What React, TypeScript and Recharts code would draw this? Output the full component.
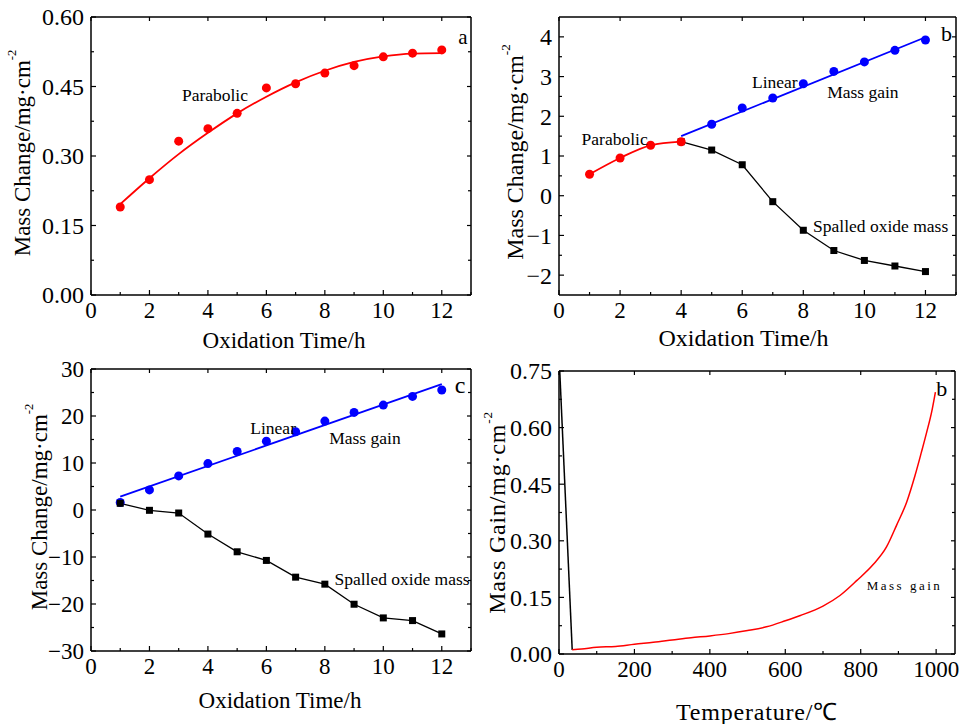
import React from 'react'
import { ComposedChart, Line, XAxis, YAxis, ReferenceDot } from 'recharts'

const FONT = '"Liberation Serif", "Times New Roman", Times, serif'
const RED = '#ff0000'
const BLUE = '#0000ff'
const BLACK = '#000000'

// a: parabolic mass change, 1-12 h
const hoursA = [1, 2, 3, 4, 5, 6, 7, 8, 9, 10, 11, 12]
const massA = [0.19, 0.249, 0.332, 0.359, 0.392, 0.447, 0.456, 0.479, 0.495, 0.514, 0.522, 0.529]
const fitA = [0.196, 0.252, 0.304, 0.35, 0.392, 0.428, 0.459, 0.484, 0.503, 0.515, 0.521, 0.522]

// b: parabolic -> linear, with spalled oxide
const hoursParabB = [1, 2, 3, 4]
const massParabB = [0.54, 0.95, 1.27, 1.36]
const hoursGainB = [5, 6, 7, 8, 9, 10, 11, 12]
const massGainB = [1.8, 2.21, 2.46, 2.82, 3.13, 3.37, 3.66, 3.92]
const hoursLinB = [4, 12]
const linearB = [1.5, 3.99]
const hoursSpallB = [4, 5, 6, 7, 8, 9, 10, 11, 12]
const spallB = [1.36, 1.15, 0.78, -0.15, -0.87, -1.38, -1.63, -1.77, -1.91]

// c: linear gain and spalled oxide
const hoursC = [1, 2, 3, 4, 5, 6, 7, 8, 9, 10, 11, 12]
const gainC = [1.6, 4.27, 7.25, 9.88, 12.44, 14.64, 16.64, 18.91, 20.76, 22.32, 24.17, 25.52]
const hoursLinC = [1, 12]
const linearC = [2.84, 26.8]
const spallC = [1.42, -0.07, -0.64, -5.12, -8.89, -10.73, -14.29, -15.78, -20.05, -22.96, -23.53, -26.37]

// d: mass gain vs temperature
const tempDrop = [2, 35]
const massDrop = [0.75, 0.011]
const tempD = [35, 60, 100, 150, 200, 250, 300, 350, 400, 450, 500, 550, 600, 640, 700, 745, 790, 833, 868, 895, 922, 944, 961, 975, 988, 998]
const gainD = [0.011, 0.013, 0.018, 0.02, 0.026, 0.031, 0.037, 0.043, 0.048, 0.054, 0.062, 0.072, 0.088, 0.102, 0.127, 0.155, 0.195, 0.237, 0.283, 0.341, 0.403, 0.473, 0.535, 0.588, 0.641, 0.694]

const timeMajor = [0, 2, 4, 6, 8, 10, 12]
const timeMinor = [1, 3, 5, 7, 9, 11, 13]
const tempMajor = [0, 200, 400, 600, 800, 1000]
const tempMinor = [100, 300, 500, 700, 900]
const yMajorA = [0, 0.15, 0.3, 0.45, 0.6]
const yMinorA = [0.075, 0.225, 0.375, 0.525]
const yMajorB = [-2, -1, 0, 1, 2, 3, 4]
const yMinorB = [-1.5, -0.5, 0.5, 1.5, 2.5, 3.5]
const yMajorC = [-30, -20, -10, 0, 10, 20, 30]
const yMinorC = [-25, -15, -5, 5, 15, 25]
const yMajorD = [0, 0.15, 0.3, 0.45, 0.6, 0.75]
const yMinorD = [0.075, 0.225, 0.375, 0.525, 0.675]

const pts = (xs: number[], ys: number[]) => xs.map((x, i) => ({ x, y: ys[i] }))
const fmt2 = (v: number) => v.toFixed(2)
const fmtInt = (v: number) => (v < 0 ? '\u2212' + Math.abs(v) : String(v))
const isIn = (arr: number[], v: number) => arr.some(m => Math.abs(m - v) < 1e-9)

interface AxisSpec { domain: [number, number]; major: number[]; minor: number[]; fmt: (v: number) => string }

const axisLine = { stroke: BLACK, strokeWidth: 1.5 }

function Panel(props: any) {
  const { left, top, width, height, margin, yWidth, x, y, xTitle, yTitle, xTitleDx, xTitleDy, yTitleX, yTitleDy, titleSize, titleSpacing, xTickSize, yTickSize, children } = props
  const xs: AxisSpec = x
  const ys: AxisSpec = y
  const xTicks = [...xs.major, ...xs.minor].sort((a, b) => a - b)
  const yTicks = [...ys.major, ...ys.minor].sort((a, b) => a - b)

  const bottomTick = (p: any) => {
    const v = p.payload.value
    const major = isIn(xs.major, v)
    return (
      <g>
        <line x1={p.x} y1={p.y} x2={p.x} y2={p.y - (major ? 5 : 3)} stroke={BLACK} strokeWidth={1.2} />
        {major && <text x={p.x} y={p.y + 7} dy="0.71em" textAnchor="middle" fontFamily={FONT} fontSize={xTickSize} fill={BLACK}>{xs.fmt(v)}</text>}
      </g>
    )
  }
  const topTick = (p: any) => {
    const major = isIn(xs.major, p.payload.value)
    return <line x1={p.x} y1={p.y} x2={p.x} y2={p.y + (major ? 4 : 3)} stroke={BLACK} strokeWidth={1.2} />
  }
  const leftTick = (p: any) => {
    const v = p.payload.value
    const major = isIn(ys.major, v)
    return (
      <g>
        <line x1={p.x} y1={p.y} x2={p.x + (major ? 5 : 3)} y2={p.y} stroke={BLACK} strokeWidth={1.2} />
        {major && <text x={p.x - 7} y={p.y} dy="0.35em" textAnchor="end" fontFamily={FONT} fontSize={yTickSize} fill={BLACK}>{ys.fmt(v)}</text>}
      </g>
    )
  }
  const rightTick = (p: any) => {
    const major = isIn(ys.major, p.payload.value)
    return <line x1={p.x} y1={p.y} x2={p.x - (major ? 4 : 3)} y2={p.y} stroke={BLACK} strokeWidth={1.2} />
  }

  const xTitleLabel = (p: any) => {
    const vb = p.viewBox
    return (
      <text x={vb.x + vb.width / 2 + xTitleDx} y={vb.y + xTitleDy} textAnchor="middle" dominantBaseline="central"
        fontFamily={FONT} fontSize={titleSize} letterSpacing={titleSpacing} fill={BLACK}>{xTitle}</text>
    )
  }
  const yTitleLabel = (p: any) => {
    const vb = p.viewBox
    const cy = vb.y + vb.height / 2 + yTitleDy
    return (
      <text transform={`translate(${yTitleX},${cy}) rotate(-90)`} textAnchor="middle" dominantBaseline="central"
        fontFamily={FONT} fontSize={titleSize} letterSpacing={titleSpacing} fill={BLACK}>
        {yTitle}<tspan dy={-titleSize * 0.42} fontSize={titleSize * 0.55}>-2</tspan>
      </text>
    )
  }

  return (
    <div style={{ position: 'absolute', left, top }}>
      <ComposedChart width={width} height={height} margin={margin}>
        <XAxis xAxisId="x" type="number" dataKey="x" domain={xs.domain} ticks={xTicks} interval={0} allowDataOverflow
          height={30} tickSize={0} tickMargin={0} tickLine={false} axisLine={axisLine} stroke={BLACK}
          tick={bottomTick} label={xTitleLabel} />
        <XAxis xAxisId="xt" type="number" dataKey="x" orientation="top" mirror domain={xs.domain} ticks={xs.major} interval={0}
          allowDataOverflow height={1} tickSize={0} tickMargin={0} tickLine={false} axisLine={axisLine} stroke={BLACK} tick={topTick} />
        <YAxis yAxisId="y" type="number" dataKey="y" domain={ys.domain} ticks={yTicks} interval={0} allowDataOverflow
          width={yWidth} tickSize={0} tickMargin={0} tickLine={false} axisLine={axisLine} stroke={BLACK}
          tick={leftTick} label={yTitleLabel} />
        <YAxis yAxisId="yr" type="number" dataKey="y" orientation="right" mirror domain={ys.domain} ticks={yTicks} interval={0}
          allowDataOverflow width={1} tickSize={0} tickMargin={0} tickLine={false} axisLine={axisLine} stroke={BLACK} tick={rightTick} />
        {children}
      </ComposedChart>
    </div>
  )
}

const note = (key: string, x: number, y: number, text: string, size = 17.5, anchor = 'start', spacing = 0) => (
  <ReferenceDot key={key} xAxisId="x" yAxisId="y" x={x} y={y} r={0} fill="none" stroke="none"
    label={(p: any) => (
      <text x={p.viewBox.x} y={p.viewBox.y} dy="0.35em" textAnchor={anchor} fontFamily={FONT} fontSize={size}
        letterSpacing={spacing} fill={BLACK}>{text}</text>
    )} />
)

const circleDot = (color: string) => ({ r: 4.5, fill: color, stroke: color, strokeWidth: 0 })
const squareDot = (p: any) => (
  <rect key={`sq-${p.index}`} x={p.cx - 3.5} y={p.cy - 3.5} width={7} height={7} fill={BLACK} />
)

const timeX = (max: number): AxisSpec => ({ domain: [0, max], major: timeMajor, minor: timeMinor, fmt: v => String(v) })

export default function App() {
  return (
    <div style={{ position: 'absolute', left: 0, top: 0, width: 963, height: 724, background: '#fff', fontFamily: FONT }}>
      {/* a */}
      <Panel left={0} top={0} width={480} height={360} margin={{ top: 17, right: 9, bottom: 35, left: 31 }} yWidth={60}
        x={timeX(13)} y={{ domain: [0, 0.6], major: yMajorA, minor: yMinorA, fmt: fmt2 }}
        xTitle="Oxidation Time/h" yTitle="Mass Change/mg·cm" xTitleDx={3} xTitleDy={45} yTitleX={22} yTitleDy={-3}
        titleSize={23} titleSpacing={0} xTickSize={23} yTickSize={24}>
        <Line xAxisId="x" yAxisId="y" data={pts(hoursA, fitA)} dataKey="y" type="monotone" stroke={RED} strokeWidth={1.8}
          dot={false} activeDot={false} isAnimationActive={false} />
        <Line xAxisId="x" yAxisId="y" data={pts(hoursA, massA)} dataKey="y" stroke="none" strokeWidth={0}
          dot={circleDot(RED)} activeDot={false} isAnimationActive={false} />
        {note('a1', 3.11, 0.433, 'Parabolic')}
        {note('a2', 12.72, 0.558, 'a', 21, 'middle')}
      </Panel>

      {/* b */}
      <Panel left={480} top={0} width={483} height={360} margin={{ top: 17, right: 7, bottom: 35, left: 29 }} yWidth={50}
        x={timeX(13)} y={{ domain: [-2.5, 4.5], major: yMajorB, minor: yMinorB, fmt: fmtInt }}
        xTitle="Oxidation Time/h" yTitle="Mass Change/mg·cm" xTitleDx={-14} xTitleDy={43} yTitleX={35} yTitleDy={-4}
        titleSize={24} titleSpacing={0} xTickSize={23} yTickSize={24}>
        <Line xAxisId="x" yAxisId="y" data={pts(hoursSpallB, spallB)} dataKey="y" type="linear" stroke={BLACK} strokeWidth={1.3}
          dot={squareDot} activeDot={false} isAnimationActive={false} />
        <Line xAxisId="x" yAxisId="y" data={pts(hoursLinB, linearB)} dataKey="y" type="linear" stroke={BLUE} strokeWidth={1.8}
          dot={false} activeDot={false} isAnimationActive={false} />
        <Line xAxisId="x" yAxisId="y" data={pts(hoursGainB, massGainB)} dataKey="y" stroke="none" strokeWidth={0}
          dot={circleDot(BLUE)} activeDot={false} isAnimationActive={false} />
        <Line xAxisId="x" yAxisId="y" data={pts(hoursParabB, massParabB)} dataKey="y" type="monotone" stroke={RED} strokeWidth={1.8}
          dot={circleDot(RED)} activeDot={false} isAnimationActive={false} />
        {note('b1', 0.74, 1.42, 'Parabolic')}
        {note('b2', 6.32, 2.87, 'Linear')}
        {note('b3', 8.78, 2.62, 'Mass gain')}
        {note('b4', 8.32, -0.76, 'Spalled oxide mass')}
        {note('b5', 12.69, 4.09, 'b', 22, 'middle')}
      </Panel>

      {/* c */}
      <Panel left={0} top={350} width={480} height={374} margin={{ top: 19, right: 9, bottom: 43, left: 31 }} yWidth={60}
        x={timeX(13)} y={{ domain: [-30, 30], major: yMajorC, minor: yMinorC, fmt: fmtInt }}
        xTitle="Oxidation Time/h" yTitle="Mass Change/mg·cm" xTitleDx={-1} xTitleDy={49} yTitleX={39} yTitleDy={-3}
        titleSize={23} titleSpacing={0} xTickSize={23} yTickSize={23}>
        <Line xAxisId="x" yAxisId="y" data={pts(hoursC, gainC)} dataKey="y" stroke="none" strokeWidth={0}
          dot={circleDot(BLUE)} activeDot={false} isAnimationActive={false} />
        <Line xAxisId="x" yAxisId="y" data={pts(hoursLinC, linearC)} dataKey="y" type="linear" stroke={BLUE} strokeWidth={1.8}
          dot={false} activeDot={false} isAnimationActive={false} />
        <Line xAxisId="x" yAxisId="y" data={pts(hoursC, spallC)} dataKey="y" type="linear" stroke={BLACK} strokeWidth={1.3}
          dot={squareDot} activeDot={false} isAnimationActive={false} />
        {note('c1', 5.45, 17.55, 'Linear')}
        {note('c2', 8.15, 15.3, 'Mass gain')}
        {note('c3', 8.33, -14.6, 'Spalled oxide mass')}
        {note('c4', 12.63, 26.65, 'c', 24, 'middle')}
      </Panel>

      {/* d */}
      <Panel left={470} top={350} width={493} height={374} margin={{ top: 21, right: 8, bottom: 40, left: 29 }} yWidth={60}
        x={{ domain: [0, 1050], major: tempMajor, minor: tempMinor, fmt: (v: number) => String(v) }}
        y={{ domain: [0, 0.75], major: yMajorD, minor: yMinorD, fmt: fmt2 }}
        xTitle="Temperature/℃" yTitle="Mass Gain/mg·cm" xTitleDx={0} xTitleDy={58} yTitleX={27} yTitleDy={0}
        titleSize={24} titleSpacing={0.8} xTickSize={23} yTickSize={24}>
        <Line xAxisId="x" yAxisId="y" data={pts(tempDrop, massDrop)} dataKey="y" type="linear" stroke={BLACK} strokeWidth={1.5}
          dot={false} activeDot={false} isAnimationActive={false} />
        <Line xAxisId="x" yAxisId="y" data={pts(tempD, gainD)} dataKey="y" type="monotone" stroke={RED} strokeWidth={1.5}
          dot={false} activeDot={false} isAnimationActive={false} />
        {note('d1', 816, 0.182, 'Mass gain', 13, 'start', 2.5)}
        {note('d2', 1015, 0.704, 'b', 22, 'middle')}
      </Panel>
    </div>
  )
}
